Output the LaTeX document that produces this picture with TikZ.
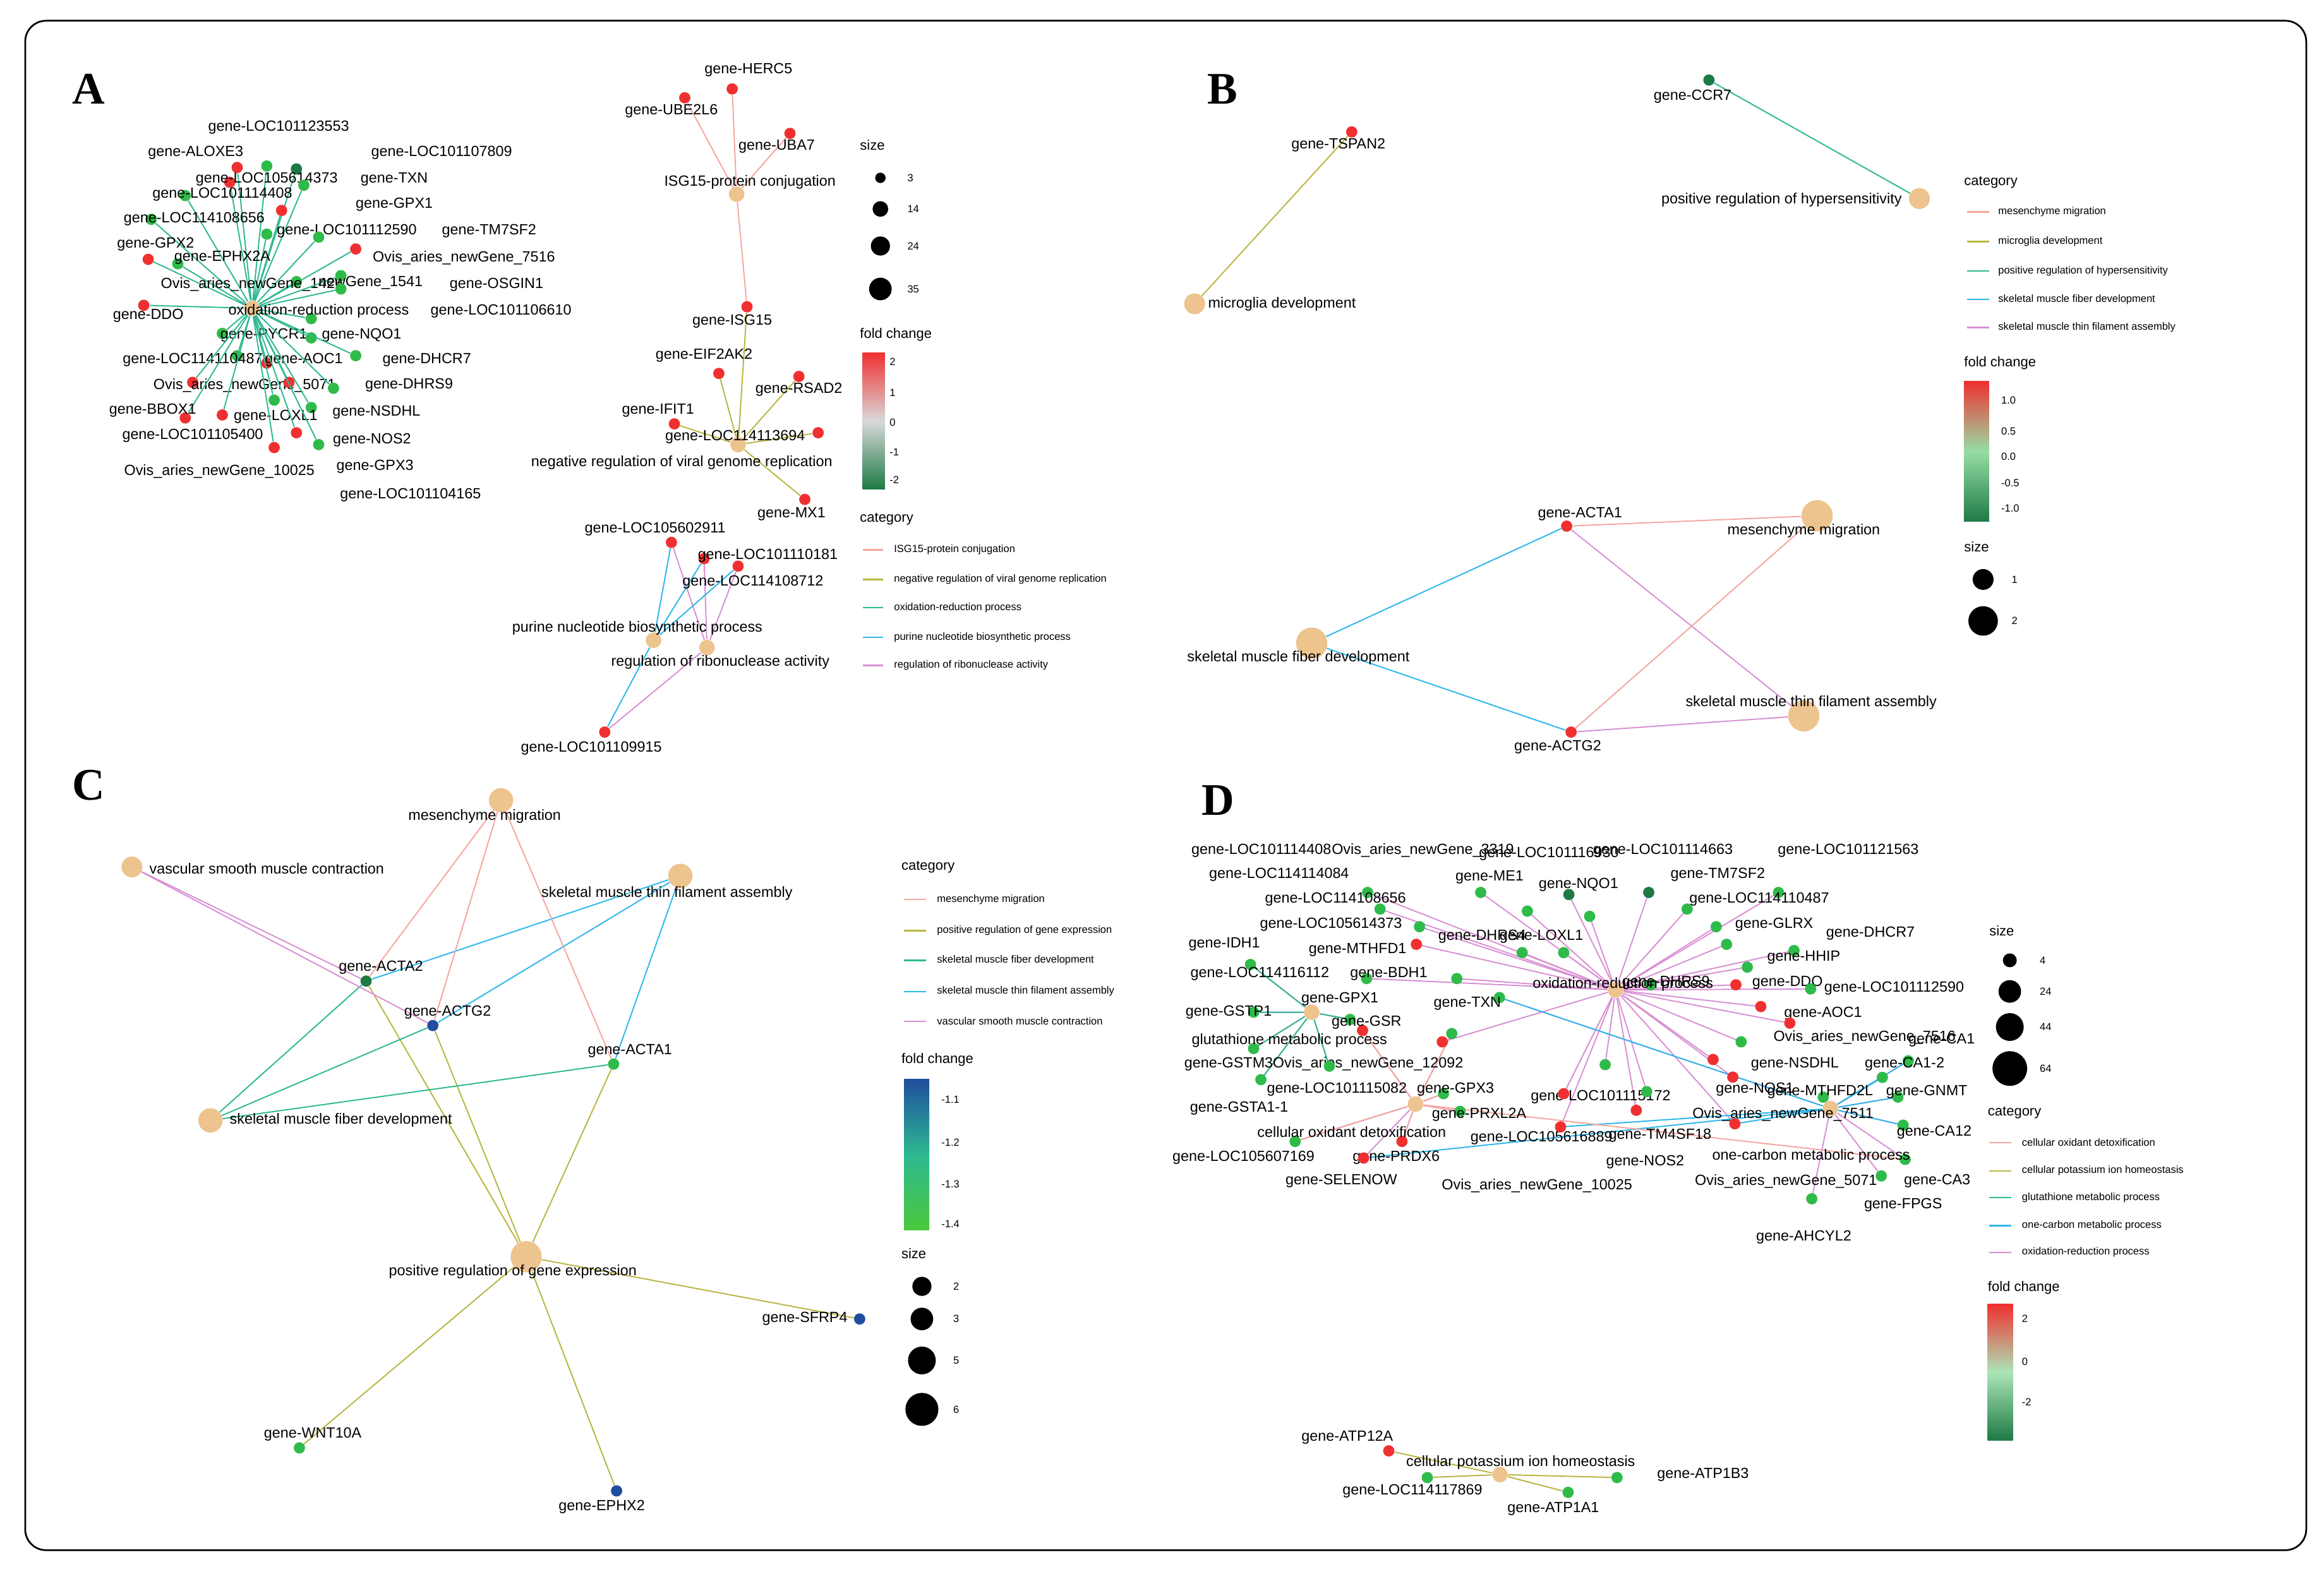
\documentclass[tikz,border=0pt]{standalone}
\usepackage{fontspec}
\setmainfont{Liberation Sans}
\newfontfamily\panelfont{Liberation Serif}
\usetikzlibrary{calc}

% colours of the figure
\definecolor{termFill}{RGB}{237,195,142}
\definecolor{pinkE}{RGB}{244,166,160}
\definecolor{oliveE}{RGB}{185,181,64}
\definecolor{tealE}{RGB}{45,184,145}
\definecolor{skyE}{RGB}{44,183,234}
\definecolor{orchE}{RGB}{216,143,211}
\definecolor{dotR}{RGB}{240,48,48}
\definecolor{dotG}{RGB}{46,187,74}
\definecolor{dotD}{RGB}{30,122,69}
\definecolor{dotB}{RGB}{31,78,156}

\tikzset{
  term/.style={circle, fill=termFill, inner sep=0pt, minimum size=#1},
  term/.default=11pt,
  gene/.style={circle, fill=#1, inner sep=0pt, minimum size=6.5pt},
  lbl/.style={font=\fontsize{8.5}{9}\selectfont, inner sep=0.5pt},
  lgd/.style={font=\fontsize{6}{7}\selectfont, anchor=west, inner sep=0pt},
  lgdhead/.style={font=\fontsize{8}{9}\selectfont, anchor=west, inner sep=0pt},
  panel/.style={font=\panelfont\bfseries\fontsize{26}{28}\selectfont},
  edge/.style={line width=0.7pt, #1}
}

\begin{document}
\begin{tikzpicture}[x=0.03cm, y=-0.03cm]

\useasboundingbox (0,0) rectangle (1568,1062);
\draw[line width=1pt, rounded corners=12pt] (17,14) rectangle (1556,1046);

% ---------------- panel A
\node[panel] (pA) at (60,60) {A};
\node[term=9pt] (oxA) at (170,208) {};
\foreach \lx/\ly/\dx/\dy/\c/\t [count=\i] in {
  188/86/160/113/dotR/gene-LOC101123553, 132/103/180/112/dotG/gene-ALOXE3,
  298/103/200/114/dotD/gene-LOC101107809, 180/121/155/123/dotR/gene-LOC105614373,
  266/121/205/125/dotG/gene-TXN, 150/131/125/132/dotG/gene-LOC101114408,
  266/138/190/142/dotR/gene-GPX1, 131/148/102/148/dotG/gene-LOC114108656,
  234/156/180/158/dotG/gene-LOC101112590, 330/156/215/160/dotG/gene-TM7SF2,
  105/165/100/175/dotR/gene-GPX2, 313/174/240/168/dotR/Ovis\_aries\_newGene\_7516,
  150/174/120/178/dotG/gene-EPHX2A, 170/192/200/190/dotG/Ovis\_aries\_newGene\_1426,
  250/191/230/186/dotG/newGene\_1541, 335/192/230/195/dotG/gene-OSGIN1,
  100/213/97/206/dotR/gene-DDO, 338/210/210/215/dotG/gene-LOC101106610,
  178/226/150/225/dotG/gene-PYCR1, 244/226/210/228/dotG/gene-NQO1,
  130/243/160/240/dotG/gene-LOC114110487, 205/243/180/245/dotR/gene-AOC1,
  288/243/240/240/dotG/gene-DHCR7, 165/260/130/258/dotR/Ovis\_aries\_newGene\_5071,
  276/260/195/258/dotR/gene-DHRS9, 103/277/125/282/dotR/gene-BBOX1,
  186/281/210/275/dotG/gene-LOXL1, 254/278/225/262/dotG/gene-NSDHL,
  130/294/150/280/dotR/gene-LOC101105400, 251/297/200/292/dotR/gene-NOS2,
  148/318/185/302/dotR/Ovis\_aries\_newGene\_10025, 253/315/215/300/dotG/gene-GPX3,
  277/334/185/270/dotG/gene-LOC101104165}{
  \node[gene=\c] (a\i) at (\dx,\dy) {};
  \draw[edge=tealE] (oxA) -- (a\i);
  \node[lbl] (al\i) at (\lx,\ly) {\t};
}
\node[lbl] (oxAl) at (215,210) {oxidation-reduction process};

\node[term=9pt] (isgA) at (497,131) {};
\node[term=9pt] (negA) at (498,300) {};
\node[term=9pt] (purA) at (441,432) {};
\node[term=9pt] (ribA) at (477,437) {};
\node[gene=dotR] (herc) at (494,60) {};
\node[gene=dotR] (ube) at (462,66) {};
\node[gene=dotR] (uba) at (533,90) {};
\node[gene=dotR] (isg) at (504,207) {};
\node[gene=dotR] (eif) at (485,252) {};
\node[gene=dotR] (rsad) at (539,254) {};
\node[gene=dotR] (ifit) at (455,286) {};
\node[gene=dotR] (l694) at (552,292) {};
\node[gene=dotR] (mx) at (543,337) {};
\node[gene=dotR] (l911) at (453,366) {};
\node[gene=dotR] (l181) at (475,377) {};
\node[gene=dotR] (l712) at (498,382) {};
\node[gene=dotR] (l915) at (408,494) {};
\foreach \g in {herc,ube,uba,isg}{\draw[edge=pinkE] (isgA) -- (\g);}
\foreach \g in {isg,eif,rsad,ifit,l694,mx}{\draw[edge=oliveE] (negA) -- (\g);}
\foreach \g in {l911,l181,l712,l915}{
  \draw[edge=skyE] (purA) -- (\g);
  \draw[edge=orchE] (ribA) -- (\g);
}
\node[lbl] (hercl) at (505,47) {gene-HERC5};
\node[lbl] (ubel) at (453,75) {gene-UBE2L6};
\node[lbl] (ubal) at (524,99) {gene-UBA7};
\node[lbl] (isgAl) at (506,123) {ISG15-protein conjugation};
\node[lbl] (isgl) at (494,217) {gene-ISG15};
\node[lbl] (eifl) at (475,240) {gene-EIF2AK2};
\node[lbl] (rsadl) at (539,263) {gene-RSAD2};
\node[lbl] (ifitl) at (444,277) {gene-IFIT1};
\node[lbl] (l694l) at (496,295) {gene-LOC114113694};
\node[lbl] (negAl) at (460,312) {negative regulation of viral genome replication};
\node[lbl] (mxl) at (534,347) {gene-MX1};
\node[lbl] (l911l) at (442,357) {gene-LOC105602911};
\node[lbl] (l181l) at (518,375) {gene-LOC101110181};
\node[lbl] (l712l) at (508,393) {gene-LOC114108712};
\node[lbl] (purAl) at (430,424) {purine nucleotide biosynthetic process};
\node[lbl] (ribAl) at (486,447) {regulation of ribonuclease activity};
\node[lbl] (l915l) at (399,505) {gene-LOC101109915};

% legend A
\node[lgdhead] (szA) at (580,98) {size};
\foreach \y/\d/\v in {120/6/3, 141/9/14, 166/11/24, 195/13/35}{
  \node[circle, fill=black, minimum size=\d pt, inner sep=0pt] (szA\v) at (594,\y) {};
  \node[lgd] at (612,\y) {\v};
}
\node[lgdhead] (fcA) at (580,226) {fold change};
\shade[top color=dotR, bottom color=dotD, middle color=white!85!black] (582,238) rectangle (597,330);
\foreach \y/\v in {244/2, 265/1, 285/0, 305/-1, 324/-2}{\node[lgd] at (600,\y) {\v};}
\node[lgdhead] (catA) at (580,350) {category};
\foreach \y/\c/\t in {371/pinkE/ISG15-protein conjugation, 391/oliveE/negative regulation of viral genome replication,
  410/tealE/oxidation-reduction process, 430/skyE/purine nucleotide biosynthetic process, 449/orchE/regulation of ribonuclease activity}{
  \draw[\c, line width=0.8pt] (582,\y) -- (596,\y);
  \node[lgd] at (603,\y) {\t};
}

% ---------------- panel B
\node[panel] (pB) at (825,60) {B};
\node[gene=dotD] (ccr) at (1153,54) {};
\node[term=12pt] (hypB) at (1295,134) {};
\node[gene=dotR] (tsp) at (912,89) {};
\node[term=12pt] (micB) at (806,205) {};
\draw[edge=tealE] (ccr) -- (hypB);
\draw[edge=oliveE] (tsp) -- (micB);
\node[term=18pt] (mesB) at (1226,348) {};
\node[term=18pt] (fibB) at (885,434) {};
\node[term=18pt] (thnB) at (1217,483) {};
\node[gene=dotR] (acta1B) at (1057,355) {};
\node[gene=dotR] (actg2B) at (1060,494) {};
\foreach \g in {acta1B,actg2B}{
  \draw[edge=pinkE] (\g) -- (mesB);
  \draw[edge=skyE] (\g) -- (fibB);
  \draw[edge=orchE] (\g) -- (thnB);
}
\node[lbl] (ccrl) at (1142,65) {gene-CCR7};
\node[lbl] (hypBl) at (1202,135) {positive regulation of hypersensitivity};
\node[lbl] (tspl) at (903,98) {gene-TSPAN2};
\node[lbl] (micBl) at (865,205) {microglia development};
\node[lbl] (acta1Bl) at (1066,347) {gene-ACTA1};
\node[lbl] (mesBl) at (1217,358) {mesenchyme migration};
\node[lbl] (fibBl) at (876,444) {skeletal muscle fiber development};
\node[lbl] (thnBl) at (1222,474) {skeletal muscle thin filament assembly};
\node[lbl] (actg2Bl) at (1051,504) {gene-ACTG2};

% legend B
\node[lgdhead] (catB) at (1325,123) {category};
\foreach \y/\c/\t in {143/pinkE/mesenchyme migration, 163/oliveE/microglia development,
  183/tealE/positive regulation of hypersensitivity, 202/skyE/skeletal muscle fiber development, 221/orchE/skeletal muscle thin filament assembly}{
  \draw[\c, line width=0.8pt] (1327,\y) -- (1342,\y);
  \node[lgd] at (1348,\y) {\t};
}
\node[lgdhead] (fcB) at (1325,245) {fold change};
\shade[top color=dotR, bottom color=dotD, middle color=dotG!50!white] (1325,257) rectangle (1342,352);
\foreach \y/\v in {270/1.0, 291/0.5, 308/0.0, 326/-0.5, 343/-1.0}{\node[lgd] at (1350,\y) {\v};}
\node[lgdhead] (szB) at (1325,369) {size};
\node[circle, fill=black, minimum size=12pt, inner sep=0pt] (szB1) at (1338,391) {};
\node[lgd] at (1357,391) {1};
\node[circle, fill=black, minimum size=17pt, inner sep=0pt] (szB2) at (1338,419) {};
\node[lgd] at (1357,419) {2};

% ---------------- panel C
\node[panel] (pC) at (60,530) {C};
\node[term=14pt] (mesC) at (338,540) {};
\node[term=12pt] (vasC) at (89,585) {};
\node[term=14pt] (thnC) at (459,591) {};
\node[term=14pt] (fibC) at (142,756) {};
\node[term=18pt] (posC) at (355,848) {};
\node[gene=dotD] (acta2C) at (247,662) {};
\node[gene=dotB] (actg2C) at (292,692) {};
\node[gene=dotG] (acta1C) at (414,718) {};
\node[gene=dotB] (sfrp) at (580,890) {};
\node[gene=dotG] (wnt) at (202,977) {};
\node[gene=dotB] (ephx) at (416,1006) {};
\foreach \g in {acta2C,actg2C,acta1C}{
  \draw[edge=pinkE] (mesC) -- (\g);
  \draw[edge=skyE] (thnC) -- (\g);
  \draw[edge=tealE] (fibC) -- (\g);
  \draw[edge=oliveE] (posC) -- (\g);
}
\draw[edge=orchE] (vasC) -- (acta2C);
\draw[edge=orchE] (vasC) -- (actg2C);
\foreach \g in {sfrp,wnt,ephx}{\draw[edge=oliveE] (posC) -- (\g);}
\node[lbl] (mesCl) at (327,551) {mesenchyme migration};
\node[lbl] (vasCl) at (180,586) {vascular smooth muscle contraction};
\node[lbl] (thnCl) at (450,603) {skeletal muscle thin filament assembly};
\node[lbl] (acta2Cl) at (257,653) {gene-ACTA2};
\node[lbl] (actg2Cl) at (302,683) {gene-ACTG2};
\node[lbl] (acta1Cl) at (425,709) {gene-ACTA1};
\node[lbl] (fibCl) at (230,756) {skeletal muscle fiber development};
\node[lbl] (posCl) at (346,858) {positive regulation of gene expression};
\node[lbl] (sfrpl) at (543,890) {gene-SFRP4};
\node[lbl] (wntl) at (211,968) {gene-WNT10A};
\node[lbl] (ephxl) at (406,1017) {gene-EPHX2};

% legend C
\node[lgdhead] (catC) at (608,585) {category};
\foreach \y/\c/\t in {607/pinkE/mesenchyme migration, 628/oliveE/positive regulation of gene expression,
  648/tealE/skeletal muscle fiber development, 669/skyE/skeletal muscle thin filament assembly, 689/orchE/vascular smooth muscle contraction}{
  \draw[\c, line width=0.8pt] (610,\y) -- (625,\y);
  \node[lgd] at (632,\y) {\t};
}
\node[lgdhead] (fcC) at (608,715) {fold change};
\shade[top color=dotB, bottom color=dotG!80!lime, middle color=tealE] (610,728) rectangle (627,830);
\foreach \y/\v in {742/-1.1, 771/-1.2, 799/-1.3, 826/-1.4}{\node[lgd] at (635,\y) {\v};}
\node[lgdhead] (szC) at (608,846) {size};
\foreach \y/\d/\v in {868/11/2, 890/13/3, 918/16/5, 951/19/6}{
  \node[circle, fill=black, minimum size=\d pt, inner sep=0pt] (szC\v) at (622,\y) {};
  \node[lgd] at (643,\y) {\v};
}

% ---------------- panel D
\node[panel] (pD) at (822,540) {D};
\node[term=9pt] (oxD) at (1090,668) {};
\node[term=9pt] (glD) at (885,683) {};
\node[term=9pt] (detD) at (955,745) {};
\node[term=9pt] (oneD) at (1235,748) {};
\node[term=9pt] (potD) at (1012,995) {};
\def\geneListD{
  851/574/oxD/dotG/gene-LOC101114408, 960/574/oxD/dotG/Ovis\_aries\_newGene\_3319,
  1045/576/oxD/dotD/gene-LOC101116930, 1122/574/oxD/dotD/gene-LOC101114663,
  1247/574/oxD/dotG/gene-LOC101121563, 863/590/oxD/dotG/gene-LOC114114084,
  1005/592/oxD/dotG/gene-ME1, 1159/590/oxD/dotG/gene-TM7SF2,
  901/607/oxD/dotG/gene-LOC114108656, 1065/597/oxD/dotG/gene-NQO1,
  1187/607/oxD/dotG/gene-LOC114110487, 898/624/oxD/dotR/gene-LOC105614373,
  1197/624/oxD/dotG/gene-GLRX, 1262/630/oxD/dotG/gene-DHCR7,
  826/637/glD/dotG/gene-IDH1, 916/641/oneD/dotG/gene-MTHFD1,
  1217/646/oxD/dotG/gene-HHIP, 850/657/oxD/dotG/gene-LOC114116112,
  937/657/oxD/dotG/gene-BDH1, 1206/663/oxD/dotR/gene-DDO,
  1278/667/oxD/dotG/gene-LOC101112590, 829/683/glD/dotG/gene-GSTP1,
  904/674/detD/dotR/gene-GPX1, 922/690/glD/dotG/gene-GSR,
  1230/684/oxD/dotR/gene-AOC1, 1258/700/oxD/dotR/Ovis\_aries\_newGene\_7516,
  1310/702/oneD/dotG/gene-CA1, 829/718/glD/dotG/gene-GSTM3,
  923/718/oxD/dotR/Ovis\_aries\_newGene\_12092, 1211/718/oxD/dotG/gene-NSDHL,
  1285/718/oneD/dotG/gene-CA1-2, 836/748/glD/dotG/gene-GSTA1-1,
  902/735/glD/dotG/gene-LOC101115082, 982/735/detD/dotG/gene-GPX3,
  1184/735/oxD/dotR/gene-NOS1, 1228/737/oneD/dotG/gene-MTHFD2L,
  1300/737/oneD/dotG/gene-GNMT, 998/752/detD/dotG/gene-PRXL2A,
  1080/740/oxD/dotG/gene-LOC101115172, 1203/752/oxD/dotR/Ovis\_aries\_newGene\_7511,
  1305/764/oneD/dotG/gene-CA12, 839/781/detD/dotG/gene-LOC105607169,
  942/781/detD/dotR/gene-PRDX6, 1040/768/oxD/dotR/gene-LOC105616889,
  1120/766/oxD/dotG/gene-TM4SF18, 1110/784/oxD/dotR/gene-NOS2,
  1205/797/oxD/dotR/Ovis\_aries\_newGene\_5071, 1307/797/oneD/dotG/gene-CA3,
  905/797/detD/dotR/gene-SELENOW, 1037/800/oxD/dotR/Ovis\_aries\_newGene\_10025,
  1284/813/oneD/dotG/gene-FPGS, 1217/835/oneD/dotG/gene-AHCYL2,
  1000/632/oxD/dotG/gene-DHRS4, 1040/632/oxD/dotG/gene-LOXL1,
  1124/663/oxD/dotG/gene-DHRS9, 990/677/detD/dotG/gene-TXN}
\foreach \lx/\ly/\tm/\c/\t [count=\i] in \geneListD{
  \coordinate (dlp\i) at (\lx,\ly);
  \coordinate (d\i) at ($(dlp\i)!0.3!(\tm)$);
  \draw[edge=orchE] (\tm) -- (d\i);
}
% category colours over the purple spaghetti
\foreach \i in {15,22,24,28,32,33}{\draw[edge=tealE] (glD) -- (d\i);}
\foreach \i in {16,27,31,36,37,41,47,49,50}{\draw[edge=skyE] (oneD) -- (d\i);}
\foreach \i in {23,34,38,42,43,48,56}{\draw[edge=pinkE] (detD) -- (d\i);}
\foreach \lx/\ly/\tm/\c/\t [count=\i] in \geneListD{
  \node[gene=\c] (dg\i) at (d\i) {};
  \node[lbl] (dl\i) at (dlp\i) {\t};
}
\node[lbl] (oxDl) at (1095,664) {oxidation-reduction process};
\node[lbl] (glDl) at (870,702) {glutathione metabolic process};
\node[lbl] (detDl) at (912,764) {cellular oxidant detoxification};
\node[lbl] (oneDl) at (1222,780) {one-carbon metabolic process};

\node[gene=dotR] (atp12) at (937,979) {};
\node[gene=dotG] (atp1b3) at (1091,997) {};
\node[gene=dotG] (l869) at (963,997) {};
\node[gene=dotG] (atp1a1) at (1058,1007) {};
\foreach \g in {atp12,atp1b3,l869,atp1a1}{\draw[edge=oliveE] (potD) -- (\g);}
\node[lbl] (atp12l) at (909,970) {gene-ATP12A};
\node[lbl] (potDl) at (1026,987) {cellular potassium ion homeostasis};
\node[lbl] (atp1b3l) at (1149,995) {gene-ATP1B3};
\node[lbl] (l869l) at (953,1006) {gene-LOC114117869};
\node[lbl] (atp1a1l) at (1048,1018) {gene-ATP1A1};

% legend D
\node[lgdhead] (szD) at (1342,628) {size};
\foreach \y/\d/\v in {648/8/4, 669/13/24, 693/16/44, 721/20/64}{
  \node[circle, fill=black, minimum size=\d pt, inner sep=0pt] (szD\v) at (1356,\y) {};
  \node[lgd] at (1376,\y) {\v};
}
\node[lgdhead] (catD) at (1341,751) {category};
\foreach \y/\c/\t in {771/pinkE/cellular oxidant detoxification, 790/oliveE/cellular potassium ion homeostasis,
  808/tealE/glutathione metabolic process, 827/skyE/one-carbon metabolic process, 845/orchE/oxidation-reduction process}{
  \draw[\c, line width=0.8pt] (1342,\y) -- (1357,\y);
  \node[lgd] at (1364,\y) {\t};
}
\node[lgdhead] (fcD) at (1341,869) {fold change};
\shade[top color=dotR, bottom color=dotD, middle color=dotG!40!white] (1341,880) rectangle (1358,972);
\foreach \y/\v in {890/2, 919/0, 946/-2}{\node[lgd] at (1364,\y) {\v};}

\end{tikzpicture}
\end{document}
